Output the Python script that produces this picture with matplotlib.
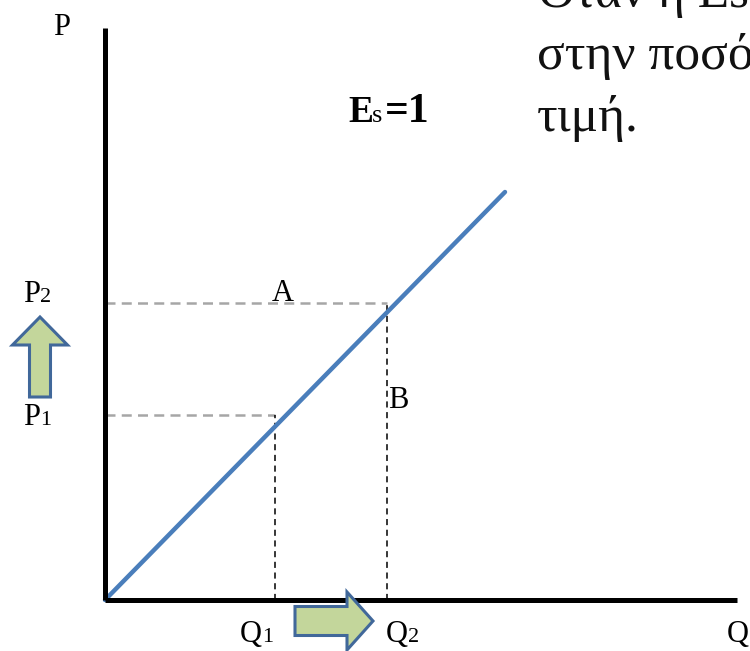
import matplotlib.pyplot as plt
import matplotlib.patches as mpatches

plt.rcParams['font.family'] = ['Liberation Serif', 'DejaVu Serif']

# supply curve with unit elasticity (straight line through the origin)
supply_q = [0, 4.00]
supply_p = [0, 4.08]

# the two price/quantity points on the curve
q_points = [1.70, 2.82]
p_points = [1.85, 2.97]
q_subs = ['1', '2']
p_subs = ['1', '2']

note_lines = ['Όταν η Es', 'στην ποσότητα', 'τιμή.']

fig = plt.figure(figsize=(7.5, 6.51), dpi=100)
ax = fig.add_axes([0, 0, 1, 1])
ax.set_xlim(-1.05, 6.45)
ax.set_ylim(-0.51, 6.00)
ax.axis('off')


def sub_label(x, y, main, sub, size=22, sub_size=16, weight='normal'):
    # main letter ends at x, the subscript starts there on the same baseline
    ax.text(x, y, main, fontsize=size, ha='right', va='baseline', fontweight=weight)
    ax.text(x, y, sub, fontsize=sub_size, ha='left', va='baseline')


# axes
ax.plot([0, 0], [0, 5.72], color='black', lw=3.6, solid_capstyle='butt', zorder=3)
ax.plot([0, 6.32], [0, 0], color='black', lw=3.6, solid_capstyle='butt', zorder=3)

# guide lines
for q, p in zip(q_points, p_points):
    ax.plot([0, q], [p, p], color='#a6a6a6', lw=1.8, dashes=(4, 2.5), zorder=1)
    ax.plot([q, q], [0, p], color='black', lw=1.1, dashes=(4, 3), zorder=1)

ax.plot(supply_q, supply_p, color='#4a7ebb', lw=3.2, solid_capstyle='round', zorder=2)

# labels
ax.text(-0.43, 5.65, 'P', fontsize=22, ha='center', va='baseline')
ax.text(6.22, -0.42, 'Q', fontsize=22, ha='left', va='baseline')
for q, s, dx in zip(q_points, q_subs, [-0.13, 0.21]):
    sub_label(q + dx, -0.42, 'Q', s)
for p, s, dy in zip(p_points, p_subs, [-0.10, 0.01]):
    sub_label(-0.65, p + dy, 'P', s)
ax.text(1.78, 2.99, 'A', fontsize=22, ha='center', va='baseline')
ax.text(2.83, 1.92, 'B', fontsize=22, ha='left', va='baseline')

ax.text(2.43, 4.78, 'E', fontsize=27, fontweight='bold', ha='left', va='baseline')
ax.text(2.67, 4.78, 's', fontsize=19, ha='left', va='baseline')
ax.text(2.80, 4.78, '=1', fontsize=30, fontweight='bold', ha='left', va='baseline')

# block arrows for the price rise and quantity rise
arrow_style = dict(facecolor='#c3d69b', edgecolor='#41689a', lw=2.2,
                   length_includes_head=True, zorder=4)
ax.add_patch(mpatches.FancyArrow(-0.65, 2.03, 0, 0.80, width=0.21,
                                 head_width=0.55, head_length=0.28, **arrow_style))
ax.add_patch(mpatches.FancyArrow(1.90, -0.21, 0.78, 0, width=0.29,
                                 head_width=0.58, head_length=0.26, **arrow_style))

# explanatory text at the top right
for i, line in enumerate(note_lines):
    fig.text(537 / 750, 1 - (7 + 62 * i) / 651, line, fontsize=37,
             ha='left', va='baseline', color='#111111')

fig.savefig('out.png', dpi=100)
